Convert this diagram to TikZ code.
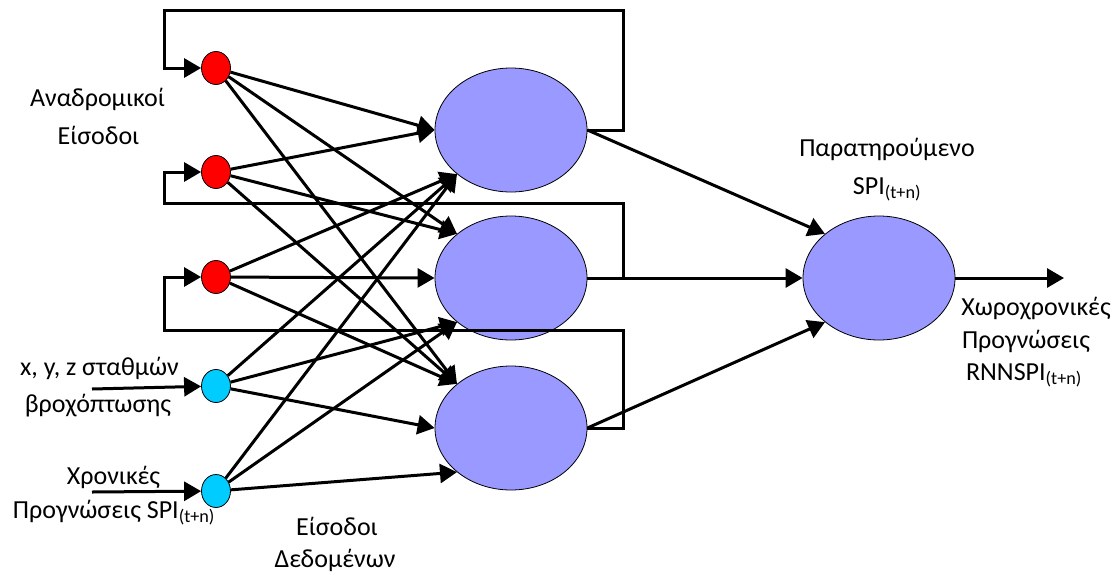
\documentclass[tikz,border=0pt]{standalone}
\usepackage{fontspec}
\setmainfont{Carlito}
\usetikzlibrary{arrows.meta,shapes.geometric}
\definecolor{neuronblue}{RGB}{153,153,255}
\definecolor{incyan}{RGB}{0,204,255}
\begin{document}
\begin{tikzpicture}[x=1pt,y=-1pt,
  conn/.style={line width=3pt,-{Triangle[length=17pt,width=19pt]}},
  innode/.style={ellipse,draw=black,line width=0.8pt,minimum width=29pt,minimum height=33pt,inner sep=0pt},
  rednode/.style={innode,fill=red},
  cyannode/.style={innode,fill=incyan},
  neuron/.style={ellipse,draw=black,line width=0.8pt,fill=neuronblue,minimum width=152pt,minimum height=124pt,inner sep=0pt},
  lbl/.style={anchor=base,inner sep=0pt,font=\fontsize{26}{30}\selectfont}]
\useasboundingbox (0,0) rectangle (1119,574);

% nodes
\node[rednode] (r1) at (216,68) {};
\node[rednode] (r2) at (216,172) {};
\node[rednode] (r3) at (216,277) {};
\node[cyannode] (c1) at (216,386) {};
\node[cyannode] (c2) at (216,491) {};
\node[neuron] (h1) at (511,130) {};
\node[neuron] (h2) at (511,278) {};
\node[neuron] (h3) at (511,428) {};
\node[neuron] (o) at (879,278) {};

% helper coordinates
\coordinate (l1a) at (623,130); \coordinate (l1b) at (623,10);
\coordinate (l1c) at (164,10);  \coordinate (l1d) at (164,68);
\coordinate (l2a) at (623,278); \coordinate (l2b) at (623,203);
\coordinate (l2c) at (164,203); \coordinate (l2d) at (164,172);
\coordinate (l3a) at (623,428); \coordinate (l3b) at (623,330);
\coordinate (l3c) at (164,330); \coordinate (l3d) at (164,277);
\coordinate (in1) at (92,389);
\coordinate (in2) at (92,492);
\coordinate (outend) at (1064,278);

% input -> hidden
\draw[conn] (r1) -- (h1.west);
\draw[conn] (r2) -- (h1.west);
\draw[conn] (r3) -- (h1.south west);
\draw[conn] (c1) -- (h1.south west);
\draw[conn] (c2) -- (h1.south west);
\draw[conn] (r1) -- (h2.north west);
\draw[conn] (r2) -- (h2.north west);
\draw[conn] (r3) -- (h2.west);
\draw[conn] (c1) -- (h2.south west);
\draw[conn] (c2) -- (h2.south west);
\draw[conn] (r1) -- (h3.north west);
\draw[conn] (r2) -- (h3.north west);
\draw[conn] (r3) -- (h3.north west);
\draw[conn] (c1) -- (h3.west);
\draw[conn] (c2) -- (h3.south west);

% feedback loops
\draw[conn] (h1.east) -- (l1a) -- (l1b) -- (l1c) -- (l1d) -- (r1);
\draw[conn] (h2.east) -- (l2a) -- (l2b) -- (l2c) -- (l2d) -- (r2);
\draw[conn] (h3.east) -- (l3a) -- (l3b) -- (l3c) -- (l3d) -- (r3);

% hidden -> output
\draw[conn] (h1.east) -- (o.north west);
\draw[conn] (h2.east) -- (o.west);
\draw[conn] (h3.east) -- (o.south west);
\draw[conn] (o.east) -- (outend);

% external inputs
\draw[conn] (in1) -- (c1);
\draw[conn] (in2) -- (c2);

% labels
\node[lbl] (t1) at (97.5,106.5) {Αναδρομικοί};
\node[lbl] (t2) at (98.5,144) {Είσοδοι};
\node[lbl] (t3) at (99.5,375) {x, y, z σταθμών};
\node[lbl] (t4) at (98,412.5) {βροχόπτωσης};
\node[lbl] (t5) at (113.5,484) {Χρονικές};
\node[lbl] (t6) at (114,518) {Προγνώσεις SPI\textsubscript{(t+n)}};
\node[lbl] (t7) at (337,535) {Είσοδοι};
\node[lbl] (t8) at (335,567) {Δεδομένων};
\node[lbl] (t9) at (887,156) {Παρατηρούμενο};
\node[lbl] (t10) at (887,194) {SPI\textsubscript{(t+n)}};
\node[lbl] (t11) at (1036,315) {Χωροχρονικές};
\node[lbl] (t12) at (1026,348) {Προγνώσεις};
\node[lbl] (t13) at (1024,380) {RNNSPI\textsubscript{(t+n)}};
\end{tikzpicture}
\end{document}
